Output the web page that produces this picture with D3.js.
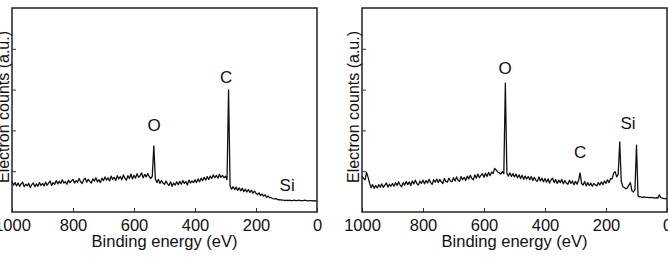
<!DOCTYPE html>
<html>
<head>
<meta charset="utf-8">
<script src="https://cdn.jsdelivr.net/npm/d3@7"></script>
<style>
  body { margin: 0; background: #fff; }
  svg { display: block; font-family: "Liberation Sans", Arial, sans-serif; }
</style>
</head>
<body>
<svg width="668" height="258"></svg>
<script>
// binding energy grid, 1000 -> 0 eV in 5 eV steps
let energies = d3.range(1000, -1, -5);

// left spectrum (a.u.)
let countsLeft = [
  0.74,0.66,0.72,0.64,0.71,0.63,0.69,0.73,0.62,0.68,
  0.64,0.70,0.60,0.67,0.71,0.62,0.69,0.63,0.72,0.65,
  0.70,0.64,0.73,0.66,0.71,0.76,0.65,0.72,0.68,0.77,
  0.69,0.75,0.70,0.79,0.71,0.74,0.68,0.78,0.72,0.76,
  0.80,0.71,0.77,0.73,0.82,0.74,0.70,0.79,0.83,0.73,
  0.80,0.75,0.71,0.81,0.76,0.84,0.74,0.79,0.72,0.83,
  0.77,0.86,0.78,0.84,0.76,0.88,0.80,0.85,0.77,0.89,
  0.81,0.87,0.79,0.91,0.83,0.78,0.89,0.82,0.93,0.81,
  0.90,0.83,0.94,0.85,0.89,0.96,0.84,0.92,0.86,0.94,
  0.87,0.82,0.88,1.62,0.81,0.72,0.80,0.70,0.77,0.71,
  0.68,0.76,0.69,0.65,0.74,0.63,0.71,0.66,0.74,0.67,
  0.75,0.68,0.77,0.70,0.75,0.66,0.78,0.71,0.76,0.72,
  0.79,0.72,0.81,0.74,0.83,0.77,0.85,0.78,0.87,0.80,
  0.88,0.82,0.91,0.84,0.90,0.83,0.92,0.85,0.90,0.84,
  0.88,0.79,2.99,0.63,0.56,0.62,0.55,0.61,0.53,0.59,
  0.52,0.58,0.50,0.56,0.49,0.55,0.48,0.53,0.46,0.51,
  0.46,0.43,0.47,0.40,0.44,0.39,0.42,0.36,0.39,0.35,
  0.35,0.33,0.32,0.33,0.31,0.30,0.30,0.29,0.29,0.28,
  0.29,0.28,0.29,0.28,0.28,0.29,0.28,0.28,0.29,0.28,
  0.28,0.28,0.29,0.28,0.27,0.28,0.28,0.27,0.28,0.27,
  0.27
];

// right spectrum (a.u.)
let countsRight = [
  0.88,0.82,0.79,0.97,0.85,0.70,0.60,0.67,0.58,0.65,
  0.59,0.67,0.61,0.69,0.60,0.66,0.71,0.61,0.68,0.63,
  0.70,0.63,0.72,0.65,0.74,0.66,0.62,0.72,0.66,0.75,
  0.67,0.74,0.65,0.76,0.69,0.78,0.69,0.66,0.76,0.70,
  0.78,0.69,0.77,0.71,0.80,0.72,0.68,0.79,0.73,0.81,
  0.72,0.80,0.74,0.70,0.82,0.75,0.73,0.83,0.76,0.74,
  0.84,0.76,0.86,0.78,0.75,0.87,0.79,0.85,0.77,0.88,
  0.81,0.90,0.82,0.79,0.91,0.83,0.93,0.84,0.90,0.94,
  0.85,0.95,0.87,0.97,0.89,0.98,0.94,1.07,1.03,0.98,
  0.96,0.93,0.99,0.94,3.16,0.95,0.88,0.96,0.87,0.94,
  0.86,0.93,0.84,0.91,0.82,0.90,0.80,0.88,0.81,0.87,
  0.79,0.87,0.77,0.85,0.78,0.75,0.86,0.76,0.83,0.74,
  0.82,0.73,0.81,0.71,0.79,0.83,0.72,0.80,0.70,0.78,
  0.72,0.80,0.69,0.77,0.71,0.68,0.78,0.70,0.76,0.67,
  0.75,0.68,0.77,0.96,0.70,0.66,0.75,0.64,0.72,0.65,
  0.71,0.63,0.70,0.67,0.64,0.72,0.66,0.74,0.67,0.76,
  0.70,0.79,0.72,0.82,0.81,0.95,0.99,0.86,0.92,1.72,
  0.76,0.62,0.60,0.57,0.59,0.66,0.72,0.52,0.49,0.55,
  1.64,0.39,0.37,0.37,0.36,0.37,0.36,0.36,0.35,0.36,
  0.35,0.35,0.34,0.35,0.34,0.42,0.35,0.34,0.33,0.33,
  0.32
];

let xTicks = [1000, 800, 600, 400, 200, 0];
let yTicks = [1, 2, 3, 4];

// peak labels: text, energy, height (a.u.)
let labelsLeft = [
  {text: "O", e: 534, v: 2.13},
  {text: "C", e: 298, v: 3.31},
  {text: "Si", e: 98, v: 0.66}
];
let labelsRight = [
  {text: "O", e: 531, v: 3.53},
  {text: "C", e: 285, v: 1.47},
  {text: "Si", e: 128, v: 2.18}
];

let svg = d3.select("svg");

let panelWidth = 305;
let plotTop = 8, plotBottom = 212;

let y = d3.scaleLinear().domain([0, 5]).range([plotBottom, plotTop]);

drawPanel(12, countsLeft, labelsLeft);
drawPanel(362, countsRight, labelsRight);

function drawPanel(x0, counts, labels)
{
  let x = d3.scaleLinear().domain([1000, 0]).range([x0, x0 + panelWidth]);
  let g = svg.append("g");

  let line = d3.line()
    .x((d, i) => x(energies[i]))
    .y(d => y(d));

  g.append("path")
    .datum(counts)
    .attr("d", line)
    .attr("fill", "none")
    .attr("stroke", "#111")
    .attr("stroke-width", 1.3)
    .attr("stroke-linejoin", "round");

  // x axis, ticks pointing inward
  let xAxis = g.append("g")
    .attr("transform", "translate(0," + plotBottom + ")")
    .call(d3.axisBottom(x).tickValues(xTicks).tickSize(-4).tickPadding(7).tickFormat(d3.format("d")));
  xAxis.select(".domain").remove();
  xAxis.selectAll("line").attr("stroke", "#333");
  xAxis.selectAll("text").attr("font-size", 16.5).attr("fill", "#111").attr("font-family", "Liberation Sans, Arial, sans-serif");

  let yAxis = g.append("g")
    .attr("transform", "translate(" + x0 + ",0)")
    .call(d3.axisLeft(y).tickValues(yTicks).tickSize(-4).tickFormat(""));
  yAxis.select(".domain").remove();
  yAxis.selectAll("line").attr("stroke", "#333");

  // frame
  g.append("rect")
    .attr("x", x0)
    .attr("y", plotTop)
    .attr("width", panelWidth)
    .attr("height", plotBottom - plotTop)
    .attr("fill", "none")
    .attr("stroke", "#222")
    .attr("stroke-width", 1.5);

  g.append("text")
    .attr("x", x0 + panelWidth / 2)
    .attr("y", 247)
    .attr("text-anchor", "middle")
    .attr("font-size", 16.5)
    .attr("fill", "#111")
    .text("Binding energy (eV)");

  g.append("text")
    .attr("transform", "translate(" + (x0 - 3) + "," + ((plotTop + plotBottom) / 2 - 3) + ") rotate(-90)")
    .attr("text-anchor", "middle")
    .attr("font-size", 16)
    .attr("fill", "#111")
    .text("Electron counts (a.u.)");

  g.selectAll(".peak")
    .data(labels)
    .enter()
    .append("text")
    .attr("class", "peak")
    .attr("x", d => x(d.e))
    .attr("y", d => y(d.v))
    .attr("dy", "0.36em")
    .attr("text-anchor", "middle")
    .attr("font-size", 17)
    .attr("fill", "#111")
    .text(d => d.text);
}
</script>
</body>
</html>
